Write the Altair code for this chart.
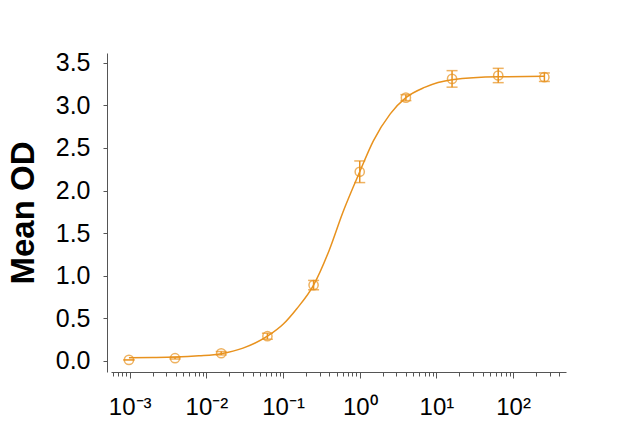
import altair as alt
import pandas as pd

# ---- data ----
conc = [0.000977, 0.0039, 0.0156, 0.0625, 0.25, 1.0, 4.0, 16.0, 64.0, 256.0]
mean_od = [0.012, 0.032, 0.09, 0.29, 0.89, 2.22, 3.09, 3.31, 3.35, 3.33]
err_od = [0.0, 0.01, 0.02, 0.035, 0.055, 0.127, 0.035, 0.097, 0.084, 0.05]

curve_x = [0.000977, 0.002, 0.0039, 0.008, 0.0156, 0.03, 0.0625, 0.1, 0.15, 0.25,
           0.4, 0.6, 1.0, 1.5, 2.5, 4.0, 7.0, 16.0, 64.0, 256.0]
curve_y = [0.038, 0.040, 0.045, 0.060, 0.085, 0.15, 0.29, 0.43, 0.61, 0.89,
           1.30, 1.74, 2.22, 2.58, 2.90, 3.09, 3.21, 3.30, 3.335, 3.34]

x_major = [0.001, 0.01, 0.1, 1, 10, 100]
x_major_labels = ["10⁻³", "10⁻²", "10⁻¹", "10⁰", "10¹", "10²"]
y_ticks = [0.0, 0.5, 1.0, 1.5, 2.0, 2.5, 3.0, 3.5]

COLOR = "#E8921E"
FONT = "Liberation Sans"

points = pd.DataFrame({
    "conc": conc,
    "od": mean_od,
    "lo": [m - e for m, e in zip(mean_od, err_od)],
    "hi": [m + e for m, e in zip(mean_od, err_od)],
})
curve = pd.DataFrame({"conc": curve_x, "od": curve_y})

# tick positions (major + minor decades)
x_ticks = [0.0006, 0.0007, 0.0008, 0.0009]
for d in [0.001, 0.01, 0.1, 1, 10]:
    x_ticks += [round(d * k, 6) for k in range(1, 10)]
x_ticks += [100, 200, 300, 400]

label_expr = ""
for v, lab in zip(x_major, x_major_labels):
    label_expr += f"abs(datum.value - {v}) < {v} * 0.001 ? '{lab}' : "
label_expr += "''"

major_test = "abs(log(datum.value)/LN10 - round(log(datum.value)/LN10)) < 0.001"

xscale = alt.Scale(type="log", domain=[5.7e-4, 490], nice=False)
yscale = alt.Scale(domain=[-0.13, 3.614], nice=False, zero=False)

xaxis = alt.Axis(
    values=x_ticks, labelExpr=label_expr, title=None, grid=False,
    labelFontSize=24, labelFont=FONT, labelColor="#000000", labelPadding=17,
    labelOverlap=False, labelFlush=False,
    tickSize={"condition": {"test": major_test, "value": 6}, "value": 4},
    tickColor="#555555", domainColor="#555555", tickWidth=1, domainWidth=1,
)
yaxis = alt.Axis(
    values=y_ticks, format=".1f", title="Mean OD", grid=False,
    labelFontSize=25, labelFont=FONT, labelColor="#000000", labelPadding=13,
    tickSize=4, tickColor="#555555", domainColor="#555555", offset=4,
    titleFont=FONT, titleFontSize=33, titleFontWeight="bold", titleColor="#000000",
    titlePadding=15,
)

x_enc = alt.X("conc:Q", scale=xscale, axis=xaxis)

line = alt.Chart(curve).mark_line(color=COLOR, strokeWidth=1.5, interpolate="monotone").encode(
    x=x_enc, y=alt.Y("od:Q", scale=yscale, axis=yaxis)
)
bars = alt.Chart(points).mark_rule(color=COLOR, strokeWidth=1.5).encode(
    x=alt.X("conc:Q", scale=xscale), y=alt.Y("lo:Q", scale=yscale), y2="hi:Q"
)
cap_lo = alt.Chart(points).mark_tick(color=COLOR, orient="horizontal", size=11, thickness=1.5).encode(
    x=alt.X("conc:Q", scale=xscale), y=alt.Y("lo:Q", scale=yscale)
)
cap_hi = alt.Chart(points).mark_tick(color=COLOR, orient="horizontal", size=11, thickness=1.5).encode(
    x=alt.X("conc:Q", scale=xscale), y=alt.Y("hi:Q", scale=yscale)
)
dots = alt.Chart(points).mark_point(shape="circle", size=85, color=COLOR, filled=False, strokeWidth=1.5).encode(
    x=alt.X("conc:Q", scale=xscale), y=alt.Y("od:Q", scale=yscale)
)

chart = alt.layer(line, bars, cap_lo, cap_hi, dots).properties(
    width=455, height=319,
    autosize=alt.AutoSizeParams(type="none"),
    padding={"left": 103, "top": 45, "right": 20, "bottom": 46},
    background="white",
).configure_view(strokeWidth=0, stroke="transparent")

chart.save("out.html", embed_options={"renderer": "svg", "actions": False})
